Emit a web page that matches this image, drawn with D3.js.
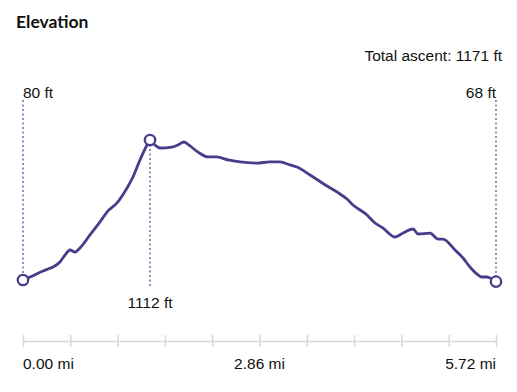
<!DOCTYPE html>
<html>
<head>
<meta charset="utf-8">
<script src="https://cdn.jsdelivr.net/npm/d3@7"></script>
<style>
  body { margin: 0; background: #fff; }
  text { font-family: "Liberation Sans", Arial, sans-serif; fill: #111; }
</style>
</head>
<body>
<div id="graph"></div>
<script>
// distance (mi) and elevation (ft)
var distances = [0.00, 0.085, 0.242, 0.302, 0.363, 0.447, 0.508, 0.568, 0.629, 0.689,
    0.810, 0.931, 1.016, 1.137, 1.258, 1.330, 1.415, 1.500, 1.536, 1.596,
    1.657, 1.802, 1.874, 1.947, 2.020, 2.116, 2.237, 2.346, 2.479, 2.624,
    2.830, 2.987, 3.108, 3.229, 3.313, 3.471, 3.676, 3.834, 3.918, 3.991,
    4.160, 4.257, 4.354, 4.499, 4.596, 4.717, 4.777, 4.922, 5.019, 5.079,
    5.224, 5.321, 5.405, 5.490, 5.551, 5.611, 5.647, 5.72];
var elevations = [80, 102, 146, 161, 176, 213, 264, 301, 286, 316,
    412, 508, 581, 648, 758, 839, 965, 1075, 1112, 1075,
    1053, 1060, 1075, 1097, 1068, 1023, 987, 987, 965, 950,
    942, 950, 950, 928, 913, 854, 773, 714, 677, 633,
    559, 500, 463, 397, 426, 456, 419, 426, 382, 382,
    301, 242, 176, 124, 102, 102, 95, 68];
var xTickLabels = ["0.00 mi", "2.86 mi", "5.72 mi"];
var totalAscent = 1171;
var peakIndex = 18;

var width = 517, height = 392;
var color = "#483d8b";

var x = d3.scaleLinear().domain([0, 5.72]).range([23, 496]);
var y = d3.scaleLinear().domain([0, 1200]).range([290.85, 128.05]);

var data = distances.map((d, i) => ({dist: d, elev: elevations[i]}));

var svg = d3.select("#graph").append("svg")
    .attr("width", width)
    .attr("height", height);

// title
svg.append("text")
    .attr("x", 16).attr("y", 28)
    .style("font-family", "Lato, sans-serif")
    .style("font-weight", "700")
    .style("font-size", "17.5px")
    .text("Elevation");

svg.append("text")
    .attr("x", 502).attr("y", 60.5)
    .attr("text-anchor", "end")
    .style("font-size", "15.5px")
    .text("Total ascent: " + totalAscent + " ft");

// x axis
var axis = svg.append("g")
    .attr("transform", "translate(0,341)")
    .call(d3.axisBottom(x).tickValues(d3.range(11).map(i => i * 0.572))
        .tickSize(0).tickFormat(""));
axis.select(".domain").attr("stroke", "#dcd7d3").attr("stroke-width", 1.5);
axis.selectAll(".tick line").attr("y1", -6).attr("y2", 6)
    .attr("stroke", "#dcd7d3").attr("stroke-width", 1.5);

svg.selectAll(".xlabel")
    .data(xTickLabels)
    .enter().append("text")
    .attr("class", "xlabel")
    .attr("x", (d, i) => x(i * 2.86))
    .attr("y", 369)
    .attr("text-anchor", (d, i) => ["start", "middle", "end"][i])
    .style("font-size", "15.5px")
    .text(d => d);

// dotted markers
var first = data[0], last = data[data.length - 1], peak = data[peakIndex];
var marks = [
    {p: first, y1: 100, y2: y(first.elev), label: first.elev + " ft", ly: 98, anchor: "start"},
    {p: peak, y1: y(peak.elev), y2: 288, label: peak.elev + " ft", ly: 308, anchor: "middle"},
    {p: last, y1: 100, y2: y(last.elev), label: last.elev + " ft", ly: 98, anchor: "end"}
];

svg.selectAll(".guide")
    .data(marks)
    .enter().append("line")
    .attr("class", "guide")
    .attr("x1", d => x(d.p.dist)).attr("x2", d => x(d.p.dist))
    .attr("y1", d => d.y1).attr("y2", d => d.y2)
    .attr("stroke", "#7a6fb8")
    .attr("stroke-width", 1.6)
    .attr("stroke-dasharray", "2,2.5");

svg.selectAll(".mlabel")
    .data(marks)
    .enter().append("text")
    .attr("class", "mlabel")
    .attr("x", d => x(d.p.dist))
    .attr("y", d => d.ly)
    .attr("text-anchor", d => d.anchor)
    .style("font-size", "15.5px")
    .text(d => d.label);

// profile line
var valueline = d3.line()
    .x(d => x(d.dist))
    .y(d => y(d.elev))
    .curve(d3.curveMonotoneX);

svg.append("path")
    .datum(data)
    .attr("fill", "none")
    .attr("stroke", color)
    .attr("stroke-width", 2.8)
    .attr("stroke-linejoin", "round")
    .attr("d", valueline);

svg.selectAll(".dot")
    .data(marks)
    .enter().append("circle")
    .attr("class", "dot")
    .attr("cx", d => x(d.p.dist))
    .attr("cy", d => y(d.p.elev))
    .attr("r", 5.2)
    .attr("fill", "#fff")
    .attr("stroke", color)
    .attr("stroke-width", 2.3);
</script>
</body>
</html>
